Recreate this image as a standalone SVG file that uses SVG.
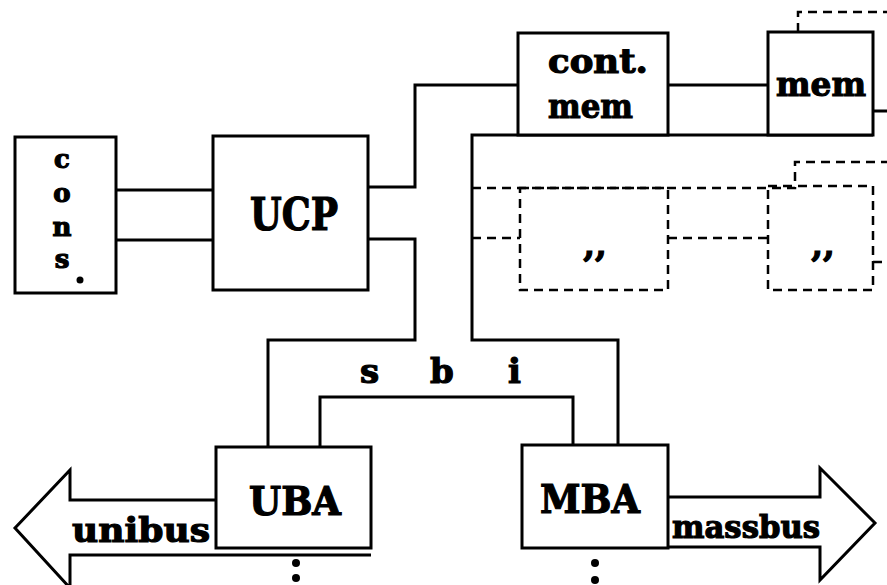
<svg xmlns="http://www.w3.org/2000/svg" width="887" height="585" viewBox="0 0 887 585">
<style>
.b{fill:#fff;stroke:#000;stroke-width:3}
.l{fill:none;stroke:#000;stroke-width:3;stroke-linejoin:miter}
.d{fill:none;stroke:#000;stroke-width:2.5;stroke-dasharray:9,6}
.t{font-family:"DejaVu Serif","Liberation Serif",serif;font-weight:bold;fill:#000;stroke:#000;stroke-width:1.2}
</style>
<rect width="887" height="585" fill="#fff"/>
<g id="connectors">
<path class="l" d="M116,190 H213 M116,240 H213"/>
<path class="l" d="M368,187 H415 V85 H518 M668,85 H768"/>
<path class="l" d="M368,239 H415 V340 H268 V447"/>
<path class="l" d="M320,447 V397 H573 V445"/>
<path class="l" d="M618,445 V340 H472 V135 H873"/>
<path class="l" d="M873,111 H887"/>
<path class="d" d="M798,32 V12 H887"/>
<path class="d" d="M472,188 H795 V162 H887"/>
<path class="d" d="M472,238 H520 M668,238 H768 M873,262 H887"/>
</g>
<g id="cons">
<rect class="b" x="15" y="137" width="101" height="156"/>
<text class="t" font-size="26" text-anchor="middle"><tspan x="62" y="168">c</tspan><tspan x="62" y="202">o</tspan><tspan x="62" y="236">n</tspan><tspan x="62" y="268">s</tspan></text>
<circle cx="80" cy="280" r="3.5"/>
</g>
<g id="ucp">
<rect class="b" x="213" y="136" width="155" height="154"/>
<text class="t" x="250" y="230" font-size="44" textLength="88" lengthAdjust="spacingAndGlyphs">UCP</text>
</g>
<g id="contmem">
<rect class="b" x="518" y="33" width="150" height="102"/>
<text class="t" x="548" y="73" font-size="34" textLength="100" lengthAdjust="spacingAndGlyphs">cont.</text>
<text class="t" x="548" y="118" font-size="34" textLength="85" lengthAdjust="spacingAndGlyphs">mem</text>
</g>
<g id="mem">
<rect class="b" x="768" y="32" width="105" height="103"/>
<text class="t" x="776" y="96" font-size="34" textLength="90" lengthAdjust="spacingAndGlyphs">mem</text>
</g>
<g id="mem2">
<rect class="d" x="520" y="188" width="148" height="102"/>
<text class="t" x="595" y="256" font-size="34" text-anchor="middle">,,</text>
</g>
<g id="mem3">
<rect class="d" x="768" y="186" width="105" height="104"/>
<text class="t" x="823" y="256" font-size="34" text-anchor="middle">,,</text>
</g>
<g id="sbi">
<text class="t" font-size="34"><tspan x="360" y="383">s</tspan><tspan x="430" y="383">b</tspan><tspan x="508" y="383">i</tspan></text>
</g>
<g id="unibus">
<path class="b" d="M216,500 H70 V470 L15,528 L70,588 V555 H371"/>
<text class="t" x="72" y="542" font-size="34" textLength="138" lengthAdjust="spacingAndGlyphs">unibus</text>
</g>
<g id="massbus">
<path class="b" d="M668,497 H820 V468 L875,523 L820,580 V547 H668"/>
<text class="t" x="672" y="538" font-size="32" textLength="148" lengthAdjust="spacingAndGlyphs">massbus</text>
</g>
<g id="uba">
<rect class="b" x="216" y="447" width="155" height="101"/>
<text class="t" x="249" y="515" font-size="40" textLength="92" lengthAdjust="spacingAndGlyphs">UBA</text>
<circle cx="296" cy="563" r="4"/><circle cx="296" cy="578" r="4"/>
</g>
<g id="mba">
<rect class="b" x="522" y="445" width="146" height="103"/>
<text class="t" x="540" y="513" font-size="40" textLength="100" lengthAdjust="spacingAndGlyphs">MBA</text>
<circle cx="595" cy="563" r="4"/><circle cx="595" cy="580" r="4"/>
</g>
</svg>
